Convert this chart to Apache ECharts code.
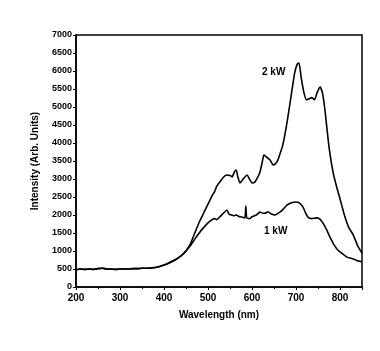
<!DOCTYPE html>
<html>
<head>
<meta charset="utf-8">
<script src="https://cdn.jsdelivr.net/npm/echarts@6/dist/echarts.min.js"></script>
<style>
  html, body { margin: 0; padding: 0; background: #fff; }
  #chart { width: 380px; height: 351px; }
</style>
</head>
<body>
<div id="chart"></div>
<script>
// wavelength (nm) and intensity readings, shared baseline then two curves
const baseWavelength = [200, 210, 220, 230, 240, 250, 260, 270, 280, 290, 300, 310, 320, 330, 340, 350, 360, 370, 380, 390, 400, 410, 420, 430, 440, 450];
const baseIntensity = [480, 500, 490, 500, 490, 510, 520, 500, 500, 490, 500, 500, 500, 510, 510, 520, 520, 530, 540, 570, 610, 660, 720, 790, 880, 1000];

const wavelength2kW = [460, 470, 480, 490, 500, 510, 515, 520, 527, 535, 543, 550, 555, 560, 564, 568, 573, 580, 589, 595, 600, 607, 613, 618, 623, 627, 632, 641, 648, 653, 659, 665, 670, 680, 690, 697, 703, 707, 712, 718, 724, 730, 736, 742, 748, 755, 760, 765, 770, 776, 784, 792, 800, 810, 820, 830, 840, 850];
const intensity2kW = [1200, 1500, 1800, 2050, 2300, 2550, 2650, 2800, 2920, 3050, 3110, 3100, 3060, 3200, 3250, 3050, 2890, 3000, 3110, 2980, 2890, 2920, 3050, 3190, 3450, 3670, 3620, 3530, 3390, 3420, 3530, 3750, 3940, 4600, 5400, 5950, 6200, 6220, 5800, 5400, 5200, 5230, 5260, 5200, 5400, 5560, 5400, 5000, 4440, 3800, 3200, 2800, 2450, 2000, 1650, 1450, 1150, 940];

const wavelength1kW = [460, 470, 480, 490, 500, 510, 515, 520, 527, 535, 543, 548, 554, 560, 565, 570, 575, 580, 584, 586, 588, 595, 600, 610, 618, 625, 630, 636, 644, 652, 660, 670, 680, 690, 700, 708, 716, 722, 727, 735, 742, 748, 755, 761, 770, 777, 785, 795, 805, 816, 830, 840, 850];
const intensity1kW = [1150, 1330, 1500, 1650, 1780, 1880, 1900, 1870, 1950, 2050, 2140, 2020, 2000, 1980, 2000, 1960, 1950, 1930, 1920, 2250, 1920, 1900, 1950, 2000, 2080, 2050, 2050, 2090, 2030, 2000, 2050, 2150, 2280, 2340, 2360, 2330, 2220, 2050, 1940, 1900, 1910, 1920, 1880, 1780, 1580, 1390, 1200, 1030, 930, 830, 780, 730, 700];

const xTicks = [200, 300, 400, 500, 600, 700, 800];

function pairs(xs, ys) {
    return xs.map((x, i) => [x, ys[i]]);
}
const baseData = pairs(baseWavelength, baseIntensity);

const font = "'Liberation Sans Narrow', 'Liberation Sans', Arial, sans-serif";
const chart = echarts.init(document.getElementById('chart'));

chart.setOption({
    backgroundColor: '#ffffff',
    animation: false,
    grid: {
        left: 76, right: 18, top: 35, bottom: 64,
        show: true, borderColor: '#000', borderWidth: 1.5, backgroundColor: 'transparent'
    },
    xAxis: {
        type: 'value',
        min: 200, max: 850, interval: 100,
        name: 'Wavelength (nm)',
        nameLocation: 'middle',
        nameGap: 23,
        nameTextStyle: { fontFamily: font, fontSize: 10, fontWeight: 'bold', color: '#000' },
        axisLine: { lineStyle: { color: '#000', width: 1.5 } },
        axisTick: { length: 3, lineStyle: { color: '#000' } },
        minorTick: { show: true, splitNumber: 2, length: 2, lineStyle: { color: '#000' } },
        axisLabel: {
            fontFamily: font, fontSize: 10, fontWeight: 'bold', color: '#000', margin: 6,
            formatter: v => xTicks.includes(v) ? String(v) : ''
        },
        splitLine: { show: false }
    },
    yAxis: {
        type: 'value',
        min: 0, max: 7000, interval: 500,
        name: 'Intensity (Arb. Units)',
        nameLocation: 'middle',
        nameGap: 36,
        nameTextStyle: { fontFamily: font, fontSize: 10, fontWeight: 'bold', color: '#000' },
        axisLine: { lineStyle: { color: '#000', width: 1.5 } },
        axisTick: { length: 3, lineStyle: { color: '#000' } },
        axisLabel: {
            fontFamily: font, fontSize: 9, fontWeight: 'bold', color: '#000', margin: 4,
            formatter: v => String(v)
        },
        splitLine: { show: false }
    },
    series: [
        {
            name: '2 kW',
            type: 'line',
            showSymbol: false,
            smooth: 0.15,
            lineStyle: { color: '#000', width: 1.6 },
            data: baseData.concat(pairs(wavelength2kW, intensity2kW))
        },
        {
            name: '1 kW',
            type: 'line',
            showSymbol: false,
            smooth: 0.15,
            lineStyle: { color: '#000', width: 1.6 },
            data: baseData.concat(pairs(wavelength1kW, intensity1kW))
        }
    ],
    graphic: [
        { type: 'text', left: 262, top: 67, style: { text: '2 kW', font: 'bold 10px ' + font, fill: '#000' } },
        { type: 'text', left: 264, top: 226, style: { text: '1 kW', font: 'bold 10px ' + font, fill: '#000' } }
    ]
});
</script>
</body>
</html>
